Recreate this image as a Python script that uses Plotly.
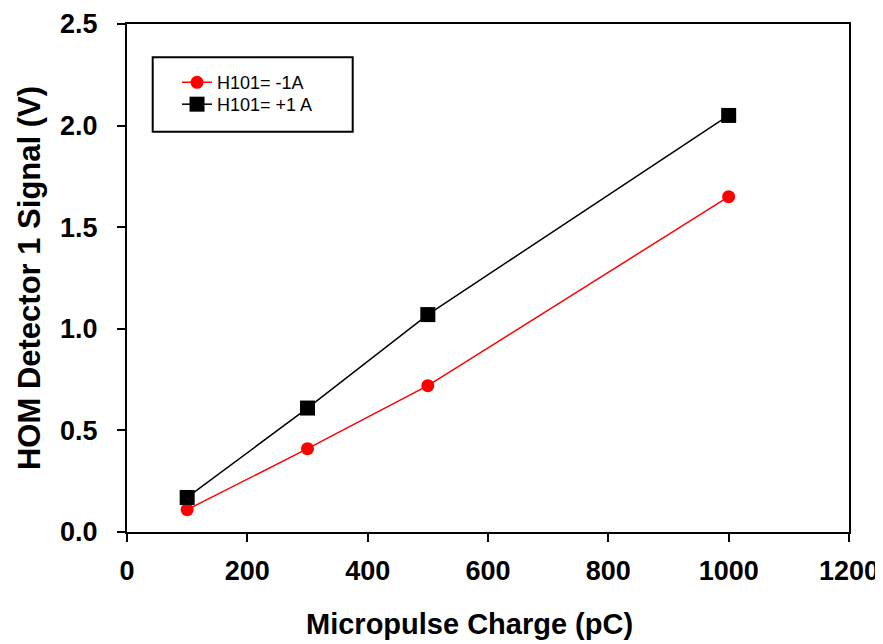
import plotly.graph_objects as go

charge = [100, 300, 500, 1000]
signal_minus = [0.11, 0.41, 0.72, 1.65]
signal_plus = [0.17, 0.61, 1.07, 2.05]
name_minus = "H101= -1A"
name_plus = "H101= +1 A"
x_ticks = [0, 200, 400, 600, 800, 1000, 1200]
y_ticks = [0.0, 0.5, 1.0, 1.5, 2.0, 2.5]
x_title = "Micropulse Charge (pC)"
y_title = "HOM Detector 1 Signal (V)"

fig = go.Figure()
fig.add_trace(go.Scatter(x=charge, y=signal_minus, mode="lines+markers", name=name_minus,
                         legend="legend",
                         line=dict(color="#ff0000", width=1.5),
                         marker=dict(symbol="circle", size=13, color="#ff0000")))
fig.add_trace(go.Scatter(x=charge, y=signal_plus, mode="lines+markers", name=name_plus,
                         legend="legend2",
                         line=dict(color="#000000", width=1.5),
                         marker=dict(symbol="square", size=15, color="#000000")))

tick_font = dict(family="Liberation Sans", size=27, color="#000000", weight="bold")
legend_font = dict(family="Liberation Sans", size=18, color="#000000")
fig.update_layout(
    width=883, height=644,
    margin=dict(l=119, r=42, t=16, b=120, autoexpand=False),
    paper_bgcolor="white", plot_bgcolor="white",
    showlegend=True,
    legend=dict(x=0.0693, y=0.921, xanchor="left", yanchor="top",
                borderwidth=0, bgcolor="rgba(0,0,0,0)", font=legend_font),
    legend2=dict(x=0.0693, y=0.878, xanchor="left", yanchor="top",
                 borderwidth=0, bgcolor="rgba(0,0,0,0)", font=legend_font),
    shapes=[dict(type="rect", xref="paper", yref="paper",
                 x0=0.0356, x1=0.3126, y0=0.788, y1=0.9345,
                 line=dict(color="#000000", width=2), fillcolor="rgba(0,0,0,0)", layer="below")],
    annotations=[dict(text="<b>" + x_title + "</b>", xref="paper", yref="paper",
                      x=0.475, y=-0.181, xanchor="center", yanchor="middle", showarrow=False,
                      font=dict(family="Liberation Sans", size=29, color="#000000"))],
    xaxis=dict(range=[0, 1200], tickvals=x_ticks, automargin=False,
               showgrid=False, zeroline=False, showline=True, linecolor="#000000", linewidth=2,
               mirror=True, ticks="outside", ticklen=8, tickwidth=2, tickcolor="#000000",
               tickfont=tick_font, ticklabelstandoff=6),
    yaxis=dict(range=[0, 2.5], tickvals=y_ticks, tickformat=".1f", automargin=False,
               showgrid=False, zeroline=False, showline=True, linecolor="#000000", linewidth=2,
               mirror=True, ticks="outside", ticklen=8, tickwidth=2, tickcolor="#000000",
               tickfont=tick_font, ticklabelstandoff=14,
               title=dict(text="<b>" + y_title + "</b>", standoff=10,
                          font=dict(family="Liberation Sans", size=31, color="#000000"))),
)

fig.write_html("out.html")
